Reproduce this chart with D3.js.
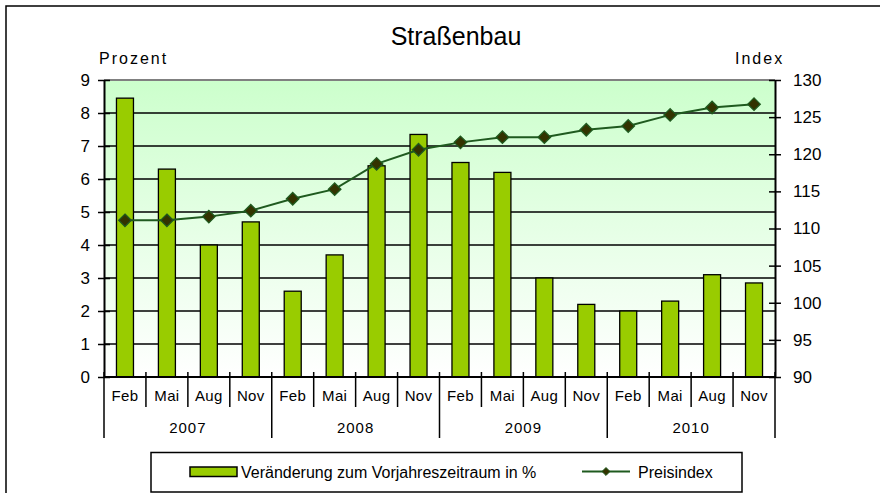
<!DOCTYPE html>
<html>
<head>
<meta charset="utf-8">
<script src="https://cdn.jsdelivr.net/npm/d3@7"></script>
<style>
  html, body { margin: 0; padding: 0; background: #fff; }
  svg { display: block; font-family: "Liberation Sans", Arial, sans-serif; }
</style>
</head>
<body>
<svg id="chart" width="880" height="493"></svg>
<script>
const months = ["Feb", "Mai", "Aug", "Nov", "Feb", "Mai", "Aug", "Nov", "Feb", "Mai", "Aug", "Nov", "Feb", "Mai", "Aug", "Nov"];
const years = ["2007", "2008", "2009", "2010"];
const changePct = [8.45, 6.3, 4.0, 4.7, 2.6, 3.7, 6.4, 7.35, 6.5, 6.2, 3.0, 2.2, 2.0, 2.3, 3.1, 2.85];
const priceIndex = [111.1, 111.1, 111.6, 112.4, 114.0, 115.3, 118.7, 120.6, 121.6, 122.3, 122.3, 123.3, 123.8, 125.3, 126.3, 126.75];
const leftTicks = [0, 1, 2, 3, 4, 5, 6, 7, 8, 9];
const rightTicks = [90, 95, 100, 105, 110, 115, 120, 125, 130];
const title = "Straßenbau";
const leftLabel = "Prozent";
const rightLabel = "Index";
const legendBar = "Veränderung zum Vorjahreszeitraum in %";
const legendLine = "Preisindex";

const svg = d3.select("#chart");
const L = 104, R = 775, T = 80, B = 377;

// outer border
svg.append("rect").attr("x", 6).attr("y", 6).attr("width", 900).attr("height", 520)
  .attr("fill", "#fff").attr("stroke", "#000").attr("stroke-width", 1.5);

const idx = d3.range(months.length);
const x = d3.scaleBand().domain(idx).range([L, R]).paddingInner(0).paddingOuter(0);
const yL = d3.scaleLinear().domain([0, 9]).range([B, T]);
const yR = d3.scaleLinear().domain([90, 130]).range([B, T]);

// gradient background
const defs = svg.append("defs");
const grad = defs.append("linearGradient").attr("id", "bg").attr("x1", 0).attr("y1", 0).attr("x2", 0).attr("y2", 1);
grad.append("stop").attr("offset", "0%").attr("stop-color", "#ccffcc");
grad.append("stop").attr("offset", "100%").attr("stop-color", "#ffffff");
svg.append("rect").attr("x", L).attr("y", T).attr("width", R - L).attr("height", B - T).attr("fill", "url(#bg)");

// gridlines
svg.append("g").selectAll("line").data(leftTicks.filter(d => d > 0))
  .join("line")
  .attr("x1", L).attr("x2", R)
  .attr("y1", d => yL(d)).attr("y2", d => yL(d))
  .attr("stroke", d => d === 9 ? "#808080" : "#000")
  .attr("stroke-width", d => d === 9 ? 2 : 1.4);

// bars
const bw = 18;
svg.append("g").selectAll("rect").data(changePct)
  .join("rect")
  .attr("x", (d, i) => x(i) + x.bandwidth() / 2 - bw / 2 + 0.5)
  .attr("y", d => yL(d))
  .attr("width", bw - 1)
  .attr("height", d => yL(0) - yL(d))
  .attr("fill", "#99cc00").attr("stroke", "#000").attr("stroke-width", 1.3);

// left axis
const axL = d3.axisLeft(yL).tickValues(leftTicks).tickSize(0).tickPadding(14);
const gL = svg.append("g").attr("transform", `translate(${L},0)`).call(axL);
gL.select(".domain").attr("stroke", "#000").attr("stroke-width", 2);
gL.selectAll(".tick text").attr("font-size", 17).attr("fill", "#000").attr("font-family", "Liberation Sans, Arial, sans-serif");
gL.selectAll(".tick").append("line").attr("x1", -6).attr("x2", 6).attr("stroke", "#000").attr("stroke-width", 1.5);

// right axis
const axR = d3.axisRight(yR).tickValues(rightTicks).tickSize(0).tickPadding(18);
const gR = svg.append("g").attr("transform", `translate(${R},0)`).call(axR);
gR.select(".domain").attr("stroke", "#000").attr("stroke-width", 2);
gR.selectAll(".tick text").attr("font-size", 17).attr("fill", "#000").attr("font-family", "Liberation Sans, Arial, sans-serif");
gR.selectAll(".tick").append("line").attr("x1", -6).attr("x2", 6).attr("stroke", "#000").attr("stroke-width", 1.5);

// bottom category axis
const gB = svg.append("g");
gB.append("line").attr("x1", L).attr("x2", R).attr("y1", B).attr("y2", B).attr("stroke", "#000").attr("stroke-width", 2);
const seps = d3.range(months.length + 1);
gB.selectAll("line.sep").data(seps).join("line").attr("class", "sep")
  .attr("x1", i => i < months.length ? x(i) : R)
  .attr("x2", i => i < months.length ? x(i) : R)
  .attr("y1", B - 5)
  .attr("y2", i => i % 4 === 0 ? 438 : 407)
  .attr("stroke", "#000").attr("stroke-width", 1.5);
gB.selectAll("text.m").data(months).join("text").attr("class", "m")
  .attr("x", (d, i) => x(i) + x.bandwidth() / 2)
  .attr("y", 401)
  .attr("text-anchor", "middle").attr("font-size", 15).attr("letter-spacing", 0.3)
  .text(d => d);
gB.selectAll("text.y").data(years).join("text").attr("class", "y")
  .attr("x", (d, i) => x(i * 4) + x.bandwidth() * 2)
  .attr("y", 433)
  .attr("text-anchor", "middle").attr("font-size", 15).attr("letter-spacing", 1)
  .text(d => d);

// line
const line = d3.line().x((d, i) => x(i) + x.bandwidth() / 2).y(d => yR(d));
svg.append("path").datum(priceIndex).attr("d", line)
  .attr("fill", "none").attr("stroke", "#1f5a1f").attr("stroke-width", 2);
const diamond = d3.symbol().type(d3.symbolDiamond2).size(100);
svg.append("g").selectAll("path").data(priceIndex).join("path")
  .attr("transform", (d, i) => `translate(${x(i) + x.bandwidth() / 2},${yR(d)})`)
  .attr("d", diamond)
  .attr("fill", "#333300").attr("stroke", "#1f5a1f").attr("stroke-width", 1.3);

// titles
svg.append("text").attr("x", 456).attr("y", 45).attr("text-anchor", "middle")
  .attr("font-size", 25).text(title);
svg.append("text").attr("x", 99).attr("y", 64).attr("font-size", 16).attr("letter-spacing", 2).text(leftLabel);
svg.append("text").attr("x", 735).attr("y", 64).attr("font-size", 16).attr("letter-spacing", 2).text(rightLabel);

// legend
const lg = svg.append("g");
lg.append("rect").attr("x", 151).attr("y", 452.5).attr("width", 591).attr("height", 39.5)
  .attr("fill", "#fff").attr("stroke", "#000").attr("stroke-width", 1.5);
lg.append("rect").attr("x", 190).attr("y", 467).attr("width", 47).attr("height", 9.5)
  .attr("fill", "#99cc00").attr("stroke", "#000").attr("stroke-width", 1.5);
lg.append("text").attr("x", 241).attr("y", 478).attr("font-size", 16).text(legendBar);
lg.append("line").attr("x1", 582).attr("x2", 630).attr("y1", 471.5).attr("y2", 471.5)
  .attr("stroke", "#1f5a1f").attr("stroke-width", 2);
lg.append("path").attr("transform", "translate(606,471.5)").attr("d", d3.symbol().type(d3.symbolDiamond2).size(40))
  .attr("fill", "#333300").attr("stroke", "#1f5a1f").attr("stroke-width", 1);
lg.append("text").attr("x", 638).attr("y", 478).attr("font-size", 16).text(legendLine);
</script>
</body>
</html>
